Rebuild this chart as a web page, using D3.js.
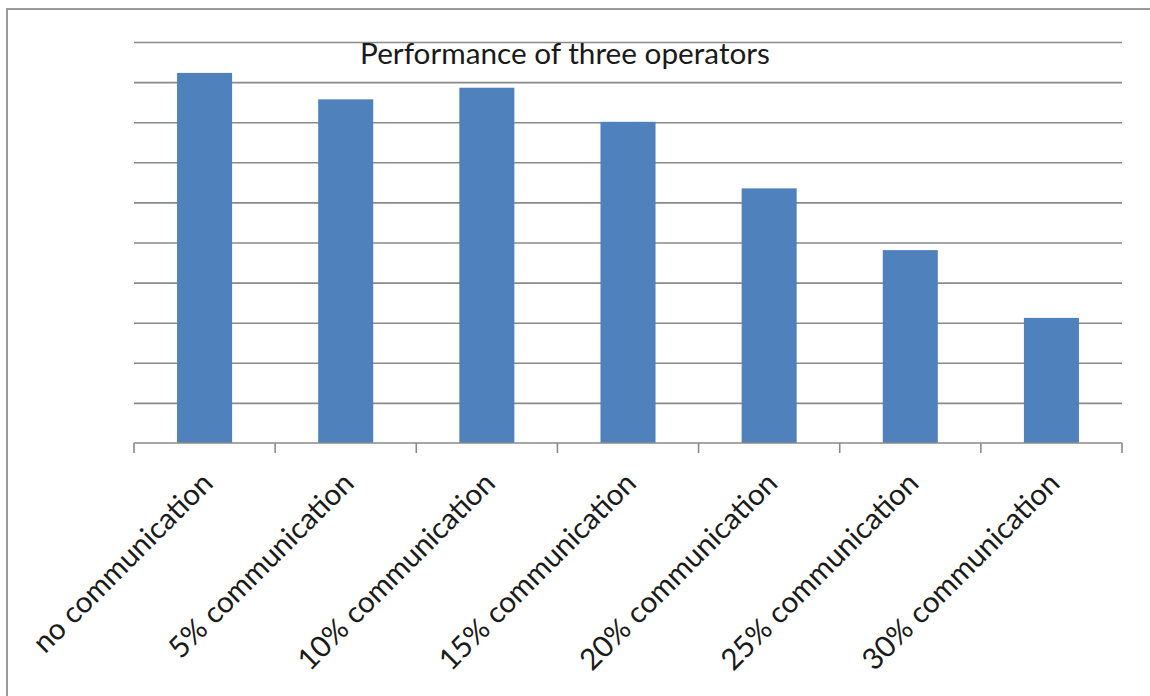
<!DOCTYPE html>
<html>
<head>
<meta charset="utf-8">
<script src="https://cdn.jsdelivr.net/npm/d3@7"></script>
<style>
  html, body { margin: 0; padding: 0; background: #fff; }
  svg { display: block; }
</style>
</head>
<body>
<svg id="chart" width="1150" height="696"></svg>
<script>
// ---- data ----
const categories = ["no communication", "5% communication", "10% communication", "15% communication",
                    "20% communication", "25% communication", "30% communication"];
const values = [92.3, 85.7, 88.6, 80.1, 63.5, 48.1, 31.2];
const yTicks = [0, 10, 20, 30, 40, 50, 60, 70, 80, 90, 100];
const title = "Performance of three operators";

// ---- layout ----
const W = 1150, H = 696;
const plot = { left: 134, right: 1122, top: 42, bottom: 443 };
const FONT = "Lato, 'Open Sans', 'Liberation Sans', sans-serif";

const svg = d3.select("#chart");

// outer frame (only top and left edges visible in the picture)
svg.append("rect")
  .attr("x", 7).attr("y", 9)
  .attr("width", 1300).attr("height", 900)
  .attr("fill", "none").attr("stroke", "#9a9a9a").attr("stroke-width", 2);

const x = d3.scaleBand()
  .domain(categories)
  .range([plot.left, plot.right])
  .paddingInner(0.61)
  .paddingOuter(0.305);

const y = d3.scaleLinear()
  .domain([0, 100])
  .range([plot.bottom, plot.top]);

// gridlines
const grid = svg.append("g")
  .attr("transform", `translate(${plot.left},0)`)
  .call(d3.axisLeft(y).tickValues(yTicks.filter(t => t > 0))
          .tickSize(-(plot.right - plot.left)).tickFormat(""));
grid.select(".domain").remove();
grid.selectAll(".tick line").attr("stroke", "#8a8a8a").attr("stroke-width", 1.6);

// bars
svg.append("g").selectAll("rect")
  .data(values)
  .join("rect")
  .attr("x", (d, i) => x(categories[i]))
  .attr("y", d => y(d))
  .attr("width", x.bandwidth())
  .attr("height", d => y(0) - y(d))
  .attr("fill", "#4f81bd");

// x axis: baseline + ticks at category boundaries
const step = x.step();
const boundaries = d3.range(categories.length + 1).map(i => plot.left + i * step);
const xa = svg.append("g");
xa.append("line")
  .attr("x1", plot.left).attr("x2", plot.right)
  .attr("y1", y(0)).attr("y2", y(0))
  .attr("stroke", "#8a8a8a").attr("stroke-width", 1.6);
xa.selectAll("line.tk")
  .data(boundaries)
  .join("line").attr("class", "tk")
  .attr("x1", d => d).attr("x2", d => d)
  .attr("y1", y(0)).attr("y2", y(0) + 10)
  .attr("stroke", "#8a8a8a").attr("stroke-width", 1.6);

// category labels, rotated -45
const labels = svg.append("g").selectAll("text")
  .data(categories)
  .join("text")
  .attr("transform", d => `translate(${x(d) + x.bandwidth() / 2 + 10},${485}) rotate(-45)`)
  .attr("text-anchor", "end")
  .attr("font-family", FONT)
  .attr("font-size", 20)
  .attr("fill", "#1a1a1a")
  .text(d => d);
// fit label size so "no communication" spans ~240px
const w0 = labels.nodes()[0].getComputedTextLength();
labels.attr("font-size", 20 * 240 / w0);

// title
const t = svg.append("text")
  .attr("x", 565).attr("y", 64)
  .attr("text-anchor", "middle")
  .attr("font-family", FONT)
  .attr("font-size", 20)
  .attr("fill", "#1a1a1a")
  .text(title);
const tw = t.node().getComputedTextLength();
t.attr("font-size", 20 * 410 / tw);
</script>
</body>
</html>
